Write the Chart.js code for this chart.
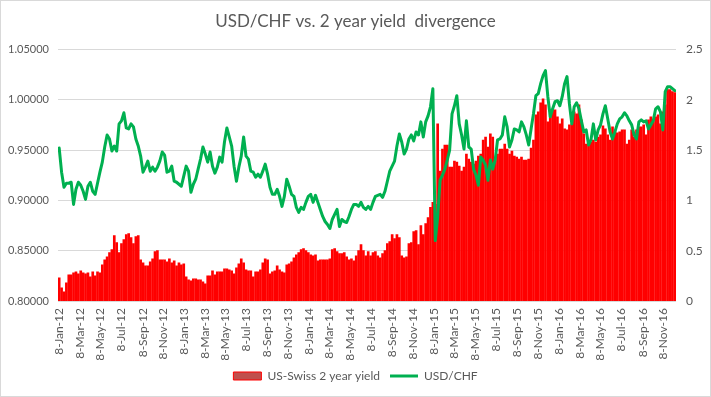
<!DOCTYPE html>
<html>
<head>
<meta charset="utf-8">
<script src="https://cdn.jsdelivr.net/npm/chart.js@4.4.1/dist/chart.umd.min.js"></script>
<style>
    body { margin: 0; background: #ffffff; }
    #wrap { width: 711px; height: 397px; position: relative; }
</style>
</head>
<body>
<div id="wrap"><canvas id="myChart"></canvas></div>
<script>
    // weekly observations, first one on this date
    var firstWeek = '2012-01-08';

    var tickLabels = [
        '8-Jan-12', '8-Mar-12', '8-May-12', '8-Jul-12', '8-Sep-12', '8-Nov-12',
        '8-Jan-13', '8-Mar-13', '8-May-13', '8-Jul-13', '8-Sep-13', '8-Nov-13',
        '8-Jan-14', '8-Mar-14', '8-May-14', '8-Jul-14', '8-Sep-14', '8-Nov-14',
        '8-Jan-15', '8-Mar-15', '8-May-15', '8-Jul-15', '8-Sep-15', '8-Nov-15',
        '8-Jan-16', '8-Mar-16', '8-May-16', '8-Jul-16', '8-Sep-16', '8-Nov-16'
    ];

    // US-Swiss 2 year yield spread (right axis)
    var yieldSpread = [
        0.23, 0.13, 0.09, 0.18, 0.26, 0.26, 0.28, 0.29, 0.27, 0.30,
        0.28, 0.27, 0.28, 0.24, 0.29, 0.25, 0.29, 0.28, 0.36, 0.41,
        0.44, 0.48, 0.51, 0.65, 0.58, 0.48, 0.57, 0.61, 0.66, 0.67,
        0.63, 0.57, 0.64, 0.65, 0.41, 0.38, 0.35, 0.35, 0.39, 0.42,
        0.49, 0.50, 0.41, 0.41, 0.41, 0.39, 0.42, 0.38, 0.40, 0.35,
        0.38, 0.36, 0.37, 0.24, 0.21, 0.20, 0.22, 0.22, 0.21, 0.21,
        0.19, 0.17, 0.25, 0.25, 0.30, 0.26, 0.29, 0.29, 0.29, 0.32,
        0.32, 0.31, 0.30, 0.27, 0.33, 0.37, 0.42, 0.38, 0.31, 0.30,
        0.30, 0.24, 0.29, 0.29, 0.31, 0.38, 0.42, 0.41, 0.27, 0.29,
        0.30, 0.35, 0.31, 0.29, 0.28, 0.36, 0.37, 0.39, 0.43, 0.46,
        0.48, 0.51, 0.52, 0.50, 0.48, 0.46, 0.45, 0.46, 0.40, 0.41,
        0.41, 0.41, 0.41, 0.42, 0.51, 0.52, 0.49, 0.47, 0.47, 0.48,
        0.44, 0.41, 0.42, 0.40, 0.45, 0.50, 0.56, 0.50, 0.45, 0.49,
        0.45, 0.48, 0.49, 0.45, 0.43, 0.47, 0.50, 0.57, 0.59, 0.66,
        0.62, 0.66, 0.63, 0.45, 0.43, 0.44, 0.57, 0.58, 0.69, 0.70,
        0.56, 0.75, 0.66, 0.77, 0.83, 0.93, 0.98, 0.96, 1.76, 1.29,
        1.51, 1.55, 1.55, 1.33, 1.33, 1.39, 1.38, 1.34, 1.29, 1.33,
        1.46, 1.41, 1.38, 1.36, 1.39, 1.44, 1.46, 1.60, 1.63, 1.53,
        1.66, 1.63, 1.39, 1.46, 1.51, 1.51, 1.56, 1.51, 1.46, 1.49,
        1.44, 1.43, 1.41, 1.43, 1.40, 1.40, 1.41, 1.52, 1.60, 1.85,
        1.88, 1.97, 2.01, 1.95, 1.78, 1.86, 1.90, 1.90, 1.83, 1.76,
        1.81, 1.71, 1.70, 1.75, 1.76, 1.88, 1.86, 1.95, 1.80, 1.66,
        1.56, 1.55, 1.58, 1.60, 1.58, 1.63, 1.65, 1.74, 1.71, 1.65,
        1.60, 1.73, 1.68, 1.67, 1.68, 1.70, 1.70, 1.56, 1.60, 1.70,
        1.63, 1.70, 1.73, 1.73, 1.75, 1.65, 1.80, 1.83, 1.78, 1.83,
        1.85, 1.76, 1.88, 1.95, 2.10, 2.10, 2.08, 2.07
    ];

    // USD/CHF weekly close (left axis)
    var usdChf = [
        0.952, 0.928, 0.913, 0.917, 0.917, 0.918, 0.896, 0.911, 0.918, 0.915,
        0.909, 0.901, 0.914, 0.918, 0.909, 0.906, 0.917, 0.928, 0.938, 0.953,
        0.965, 0.961, 0.949, 0.954, 0.949, 0.976, 0.979, 0.987, 0.972, 0.971,
        0.976, 0.973, 0.961, 0.954, 0.944, 0.928, 0.933, 0.939, 0.929, 0.933,
        0.929, 0.933, 0.939, 0.948, 0.945, 0.928, 0.929, 0.934, 0.919, 0.918,
        0.916, 0.914, 0.924, 0.934, 0.929, 0.908, 0.916, 0.921, 0.931, 0.941,
        0.953, 0.946, 0.938, 0.948, 0.934, 0.927, 0.933, 0.943, 0.938, 0.958,
        0.972, 0.963, 0.954, 0.934, 0.919, 0.933, 0.944, 0.963, 0.944, 0.941,
        0.929, 0.928, 0.923, 0.926, 0.923, 0.929, 0.936, 0.926, 0.913, 0.906,
        0.906, 0.911, 0.904, 0.894, 0.904, 0.921, 0.914, 0.906, 0.904, 0.893,
        0.888, 0.893, 0.891, 0.898, 0.904, 0.906, 0.898, 0.905, 0.898, 0.891,
        0.884, 0.879, 0.876, 0.872, 0.881, 0.886, 0.891, 0.874, 0.881, 0.879,
        0.878, 0.884, 0.891, 0.896, 0.896, 0.894, 0.898, 0.893, 0.891, 0.894,
        0.891, 0.898, 0.904, 0.905, 0.906, 0.903, 0.909, 0.919, 0.929, 0.934,
        0.939, 0.954, 0.966, 0.958, 0.946, 0.951, 0.961, 0.965, 0.959, 0.968,
        0.965, 0.978, 0.963, 0.978, 0.984, 0.993, 1.011, 0.860, 0.883, 0.920,
        0.925, 0.931, 0.940, 0.950, 0.986, 0.994, 1.004, 0.976, 0.965, 0.951,
        0.979, 0.953, 0.951, 0.931, 0.925, 0.915, 0.943, 0.940, 0.935, 0.920,
        0.940, 0.931, 0.940, 0.960, 0.961, 0.965, 0.983, 0.973, 0.953, 0.960,
        0.971, 0.970, 0.968, 0.978, 0.973, 0.965, 0.955, 0.971, 0.986, 1.004,
        1.006, 1.016, 1.024, 1.029, 1.003, 0.983, 0.991, 0.998, 0.999, 0.994,
        1.003, 1.016, 1.023, 0.996, 0.976, 0.993, 0.997, 0.991, 0.979, 0.968,
        0.970, 0.955, 0.960, 0.976, 0.960, 0.970, 0.975, 0.986, 0.994, 0.981,
        0.968, 0.961, 0.968, 0.976, 0.981, 0.983, 0.987, 0.984, 0.979, 0.975,
        0.965, 0.961, 0.978, 0.980, 0.978, 0.979, 0.971, 0.975, 0.979, 0.991,
        0.993, 0.988, 0.970, 1.008, 1.013, 1.013, 1.011, 1.009
    ];

    var monthNames = ['Jan', 'Feb', 'Mar', 'Apr', 'May', 'Jun', 'Jul', 'Aug', 'Sep', 'Oct', 'Nov', 'Dec'];
    var dayMs = 86400000;
    var startMs = Date.parse(firstWeek);

    // days since the first week, for a label like 8-Mar-12
    function dayOffset(label) {
        var p = label.split('-');
        return (Date.UTC(2000 + parseInt(p[2]), monthNames.indexOf(p[1]), parseInt(p[0])) - startMs) / dayMs;
    }

    var tickDays = tickLabels.map(dayOffset);
    var lastDay = (yieldSpread.length - 1) * 7;

    var textColor = '#595959';
    Chart.defaults.font.family = 'Lato, "Open Sans", sans-serif';
    Chart.defaults.color = textColor;

    var chartBorder = {
        id: 'chartBorder',
        afterDraw: function (chart) {
            var c = chart.ctx;
            c.save();
            c.strokeStyle = '#d9d9d9';
            c.lineWidth = 1;
            c.strokeRect(0.5, 0.5, chart.width - 1, chart.height - 1);
            c.restore();
        }
    };

    var ctx = document.getElementById('myChart').getContext('2d');
    var chart = new Chart(ctx, {
        type: 'bar',
        data: {
            datasets: [
                {
                    type: 'bar',
                    label: 'US-Swiss 2 year yield',
                    data: yieldSpread.map(function (v, i) { return { x: i * 7, y: v }; }),
                    backgroundColor: '#ff0000',
                    borderWidth: 0,
                    barThickness: 2,
                    yAxisID: 'y1',
                    order: 1
                },
                {
                    type: 'line',
                    label: 'USD/CHF',
                    data: usdChf.map(function (v, i) { return { x: i * 7, y: v }; }),
                    borderColor: '#00b050',
                    backgroundColor: '#00b050',
                    borderWidth: 3,
                    pointRadius: 0,
                    tension: 0,
                    borderJoinStyle: 'round',
                    borderCapStyle: 'round',
                    yAxisID: 'y',
                    order: 0
                }
            ]
        },
        options: {
            responsive: true,
            maintainAspectRatio: false,
            animation: false,
            layout: { padding: { top: 0, left: 0, right: 0, bottom: 5 } },
            plugins: {
                title: {
                    display: true,
                    text: 'USD/CHF vs. 2 year yield  divergence',
                    color: textColor,
                    font: { size: 17, weight: 'normal' },
                    padding: { top: 11, bottom: 18 }
                },
                legend: {
                    position: 'bottom',
                    labels: {
                        usePointStyle: true,
                        pointStyleWidth: 28,
                        boxHeight: 8,
                        padding: 10,
                        color: textColor,
                        font: { size: 12 },
                        // keep the bars first, like the dataset list
                        sort: function (a, b) { return a.datasetIndex - b.datasetIndex; },
                        generateLabels: function (chart) {
                            var items = Chart.defaults.plugins.legend.labels.generateLabels(chart);
                            items.forEach(function (item) {
                                if (item.datasetIndex === 0) {
                                    item.pointStyle = 'rect';
                                    item.fillStyle = '#c0504d';
                                    item.strokeStyle = '#ff0000';
                                    item.lineWidth = 1;
                                } else {
                                    item.pointStyle = 'line';
                                    item.strokeStyle = '#00b050';
                                    item.lineWidth = 3;
                                }
                            });
                            return items;
                        }
                    }
                },
                tooltip: { enabled: false }
            },
            scales: {
                x: {
                    type: 'linear',
                    min: -3.5,
                    max: lastDay + 3.5,
                    offset: false,
                    grid: { display: false, drawTicks: false },
                    border: { display: false },
                    afterBuildTicks: function (scale) {
                        scale.ticks = tickDays.map(function (d) { return { value: d }; });
                    },
                    afterFit: function (scale) { scale.height = 59; },
                    ticks: {
                        autoSkip: false,
                        minRotation: 90,
                        maxRotation: 90,
                        padding: 7,
                        font: { size: 12 },
                        callback: function (value) {
                            var k = tickDays.indexOf(value);
                            return k >= 0 ? tickLabels[k] : '';
                        }
                    }
                },
                y: {
                    position: 'left',
                    min: 0.8,
                    max: 1.05,
                    grid: { color: '#d9d9d9', drawTicks: false },
                    border: { display: false },
                    afterFit: function (scale) { scale.width = 58; },
                    ticks: {
                        stepSize: 0.05,
                        padding: 9,
                        font: { size: 11 },
                        callback: function (value) { return value.toFixed(5); }
                    }
                },
                y1: {
                    position: 'right',
                    min: 0,
                    max: 2.5,
                    grid: { display: false, drawTicks: false },
                    border: { display: false },
                    afterFit: function (scale) { scale.width = 35; },
                    ticks: {
                        stepSize: 0.5,
                        padding: 10,
                        font: { size: 12 },
                        callback: function (value) { return String(Math.round(value * 10) / 10); }
                    }
                }
            }
        },
        plugins: [chartBorder]
    });
</script>
</body>
</html>
